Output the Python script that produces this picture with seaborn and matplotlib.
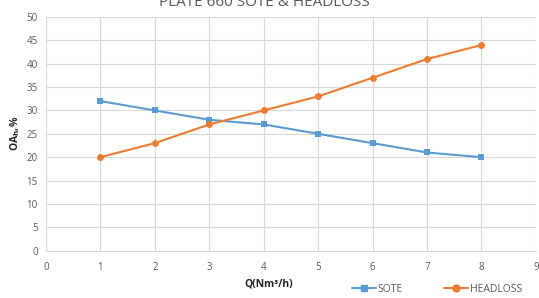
import matplotlib
matplotlib.use("Agg")
import matplotlib.pyplot as plt
from matplotlib.lines import Line2D
import seaborn as sns
import pandas as pd

# data
q = [1, 2, 3, 4, 5, 6, 7, 8]
sote = [32, 30, 28, 27, 25, 23, 21, 20]
headloss = [20, 23, 27, 30, 33, 37, 41, 44]

df = pd.DataFrame({"Q": q * 2,
                   "val": sote + headloss,
                   "series": ["SOTE"] * len(q) + ["HEADLOSS"] * len(q)})

sns.set_style("white")
plt.rcParams["font.family"] = ["Open Sans", "DejaVu Sans"]

fig = plt.figure(figsize=(5.39, 2.98), dpi=100)
ax = fig.add_axes([0.0853, 0.159, 0.909, 0.784])

palette = {"SOTE": "#5B9BD5", "HEADLOSS": "#ED7D31"}
sns.lineplot(data=df, x="Q", y="val", hue="series", style="series",
             markers={"SOTE": "s", "HEADLOSS": "o"}, dashes=False,
             palette=palette, linewidth=1.5, markersize=5,
             markeredgewidth=0, ax=ax, legend=False)

ax.set_xlim(0, 9)
ax.set_ylim(0, 50)
ax.set_xticks(range(0, 10))
ax.set_yticks(range(0, 51, 5))
ax.grid(True, color="#D9D9D9", linewidth=0.8)
ax.set_axisbelow(True)
for s in ["top", "right", "left"]:
    ax.spines[s].set_visible(False)
ax.spines["bottom"].set_color("#D9D9D9")
ax.tick_params(axis="x", length=0, labelsize=7, colors="#595959", pad=8)
ax.tick_params(axis="y", length=0, labelsize=7, colors="#595959", pad=6)

ax.set_xlabel("Q(Nm³/h)", fontsize=7.5, fontweight="bold", va="center")
ax.xaxis.set_label_coords(0.455, -0.142)
ax.set_ylabel("OA$_\\mathbf{h}$,%", fontsize=7.5, fontweight="bold", va="center")
ax.yaxis.set_label_coords(-0.063, 0.5)

fig.text(0.49, 0.99, "PLATE 660 SOTE & HEADLOSS", ha="center", va="center",
         fontsize=11, color="#595959")

handles = [Line2D([], [], color=palette["SOTE"], marker="s", markersize=5, lw=1.5),
           Line2D([], [], color=palette["HEADLOSS"], marker="o", markersize=5, lw=1.5)]
fig.legend(handles, ["SOTE", "HEADLOSS"], loc="center", bbox_to_anchor=(0.811, 0.03),
           ncol=2, frameon=False, fontsize=7.5, handlelength=2.3, columnspacing=4,
           handletextpad=0.2, labelcolor="#595959", borderpad=0)

fig.savefig("out.png", dpi=100)
